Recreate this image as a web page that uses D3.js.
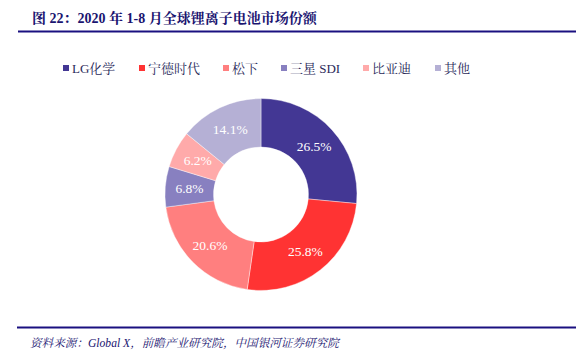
<!DOCTYPE html>
<html><head><meta charset="utf-8">
<script src="https://cdn.jsdelivr.net/npm/d3@7"></script>
<style>html,body{margin:0;padding:0;background:#fff;}svg{display:block;}</style>
</head><body>
<svg id="c" width="576" height="357"></svg>
<script>
const categories = ["LG化学", "宁德时代", "松下", "三星 SDI", "比亚迪", "其他"];
const values = [26.5, 25.8, 20.6, 6.8, 6.2, 14.1];
const colors = ["#433794", "#ff3333", "#ff7f7f", "#8880c0", "#ffaaaa", "#b5b0d5"];
const titleText = "图 22：2020 年 1-8 月全球锂离子电池市场份额";
const sourceText = "资料来源：Global X，前瞻产业研究院，中国银河证券研究院";

const svg = d3.select("#c");
const serif = "'Liberation Serif','Noto Serif CJK SC','Noto Sans CJK SC',serif";
const navy = "#1a1470";

// title
svg.append("text").attr("x", 32).attr("y", 23)
  .attr("font-family", serif).attr("font-weight", "bold").attr("font-size", 14)
  .attr("fill", navy).text(titleText);
svg.append("line").attr("x1", 18).attr("x2", 576).attr("y1", 31.5).attr("y2", 31.5)
  .attr("stroke", "#1a1080").attr("stroke-width", 2.2);

// legend
const legendX = [63, 139, 223, 281, 363, 435];
const lg = svg.append("g");
categories.forEach((c, i) => {
  lg.append("rect").attr("x", legendX[i]).attr("y", 65).attr("width", 6).attr("height", 6).attr("fill", colors[i]);
  lg.append("text").attr("x", legendX[i] + 9).attr("y", 73)
    .attr("font-family", serif).attr("font-size", 13).attr("fill", "#2a2a5a").text(c);
});

// donut
const cx = 261, cy = 194.5, rOuter = 96, rInner = 47.5;
const pie = d3.pie().sort(null).value(d => d)(values);
const arc = d3.arc().innerRadius(rInner).outerRadius(rOuter);
const g = svg.append("g").attr("transform", `translate(${cx},${cy})`);
g.selectAll("path").data(pie).join("path")
  .attr("d", arc).attr("fill", (d, i) => colors[i])
  .attr("stroke", "#fff").attr("stroke-width", 0.4);
g.selectAll("text").data(pie).join("text")
  .attr("transform", d => `translate(${arc.centroid(d)})`)
  .attr("text-anchor", "middle").attr("dy", "0.35em")
  .attr("font-family", serif).attr("font-size", 13.5).attr("fill", "#fff")
  .text(d => d.data.toFixed(1) + "%");

// footer
svg.append("line").attr("x1", 17).attr("x2", 576).attr("y1", 327.5).attr("y2", 327.5)
  .attr("stroke", "#1a1080").attr("stroke-width", 2.2);
svg.append("text").attr("x", 30).attr("y", 347)
  .attr("font-family", serif).attr("font-style", "italic").attr("font-size", 11.6)
  .attr("fill", navy).text(sourceText);
</script>
</body></html>
